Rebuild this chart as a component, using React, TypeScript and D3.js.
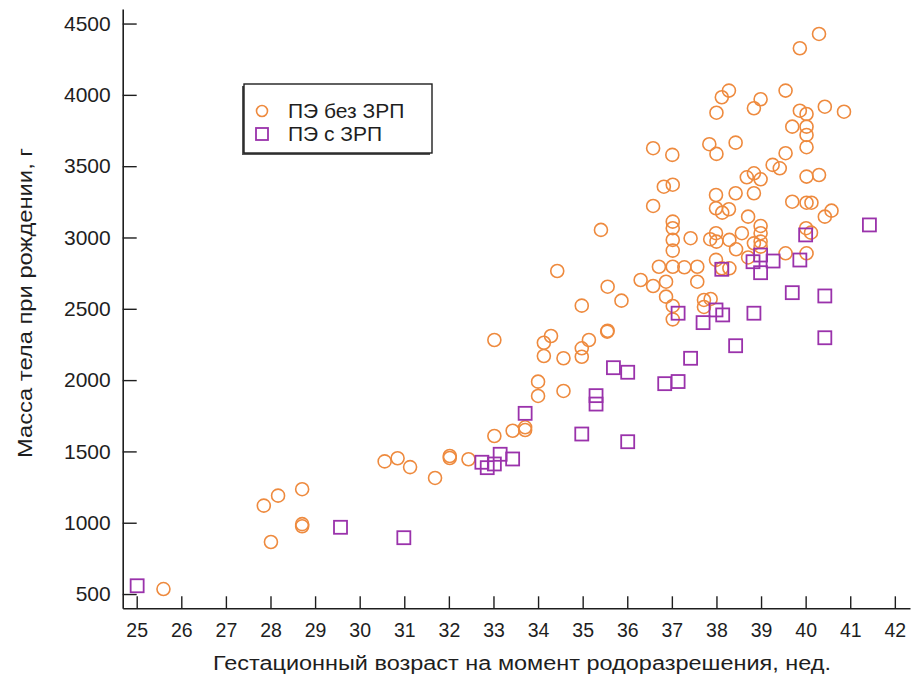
import { useEffect, useRef } from 'react';
import { axisBottom, axisLeft, scaleLinear, select, range, format } from 'd3';

// [gestational age (weeks), birth weight (g)]
const peNoFgr: [number, number][] = [
  [25.6, 535], [27.85, 1120], [28.17, 1190], [28.71, 1235], [28.71, 990], [28.71, 975],
  [28.01, 865], [30.56, 1430], [30.85, 1452], [31.13, 1390], [33.02, 2281], [34.13, 2262],
  [34.29, 2309], [34.13, 2169], [34.57, 2153], [34.98, 2223], [35.14, 2281], [34.98, 2164],
  [35.55, 2340], [34.0, 1989], [34.0, 1889], [34.57, 1924], [33.02, 1608], [33.43, 1645],
  [33.71, 1669], [33.71, 1650], [32.02, 1468], [32.02, 1454], [32.44, 1445], [31.69, 1314],
  [36.82, 3356], [37.02, 3370], [36.58, 3221], [35.41, 3053], [37.02, 3111], [37.02, 3065],
  [37.02, 2983], [37.02, 2908], [37.42, 2995], [37.86, 2988], [37.99, 3298], [37.99, 3030],
  [37.99, 2843], [36.71, 2795], [37.02, 2795], [37.28, 2791], [37.57, 2795], [34.43, 2765],
  [35.56, 2655], [36.3, 2702], [36.58, 2660], [36.87, 2690], [37.57, 2690], [35.87, 2557],
  [34.98, 2522], [36.87, 2585], [37.02, 2520], [37.02, 2426], [37.72, 2562], [37.87, 2569],
  [37.72, 2513], [35.56, 2346], [40.3, 4427], [39.87, 4327], [39.55, 4030], [38.28, 4030],
  [38.12, 3983], [38.0, 3875], [38.99, 3969], [38.84, 3906], [39.87, 3889], [40.02, 3866],
  [40.43, 3917], [40.86, 3882], [39.7, 3777], [40.02, 3777], [40.02, 3719], [40.02, 3633],
  [36.58, 3626], [37.01, 3579], [37.84, 3654], [38.0, 3586], [38.43, 3665], [39.55, 3591],
  [39.26, 3509], [39.42, 3485], [38.68, 3422], [38.84, 3450], [38.99, 3408], [40.02, 3427],
  [40.3, 3438], [38.43, 3310], [38.84, 3310], [39.7, 3251], [40.02, 3244], [40.13, 3244],
  [40.58, 3188], [37.99, 3205], [38.13, 3174], [38.28, 3198], [38.71, 3146], [40.43, 3146],
  [40.01, 3065], [40.12, 3034], [38.0, 2971], [38.29, 2983], [38.57, 3030], [38.44, 2917],
  [38.99, 3081], [38.99, 3030], [38.99, 2971], [38.99, 2936], [38.84, 2959], [39.55, 2889],
  [40.02, 2889], [38.12, 2784], [38.29, 2784], [38.71, 2860],
];

const peFgr: [number, number][] = [
  [25.01, 558], [29.57, 968], [30.99, 895], [33.71, 1767], [32.74, 1424], [32.86, 1386],
  [33.02, 1412], [33.15, 1480], [33.43, 1447], [35.69, 2087], [36.01, 2055], [35.3, 1891],
  [35.3, 1832], [34.98, 1622], [36.01, 1568], [41.43, 3088], [38.99, 2877], [39.27, 2835],
  [39.87, 2842], [38.82, 2830], [38.99, 2753], [38.12, 2777], [40.0, 3018], [39.7, 2613],
  [40.43, 2590], [40.43, 2297], [37.14, 2469], [37.7, 2403], [37.99, 2492], [38.14, 2457],
  [38.84, 2469], [38.43, 2241], [37.42, 2153], [37.14, 1990], [36.84, 1975],
];

const xTicks = range(25, 43);
const yTicks = [500, 1000, 1500, 2000, 2500, 3000, 3500, 4000, 4500];
const legendLabels = ['ПЭ без ЗРП', 'ПЭ с ЗРП'];
const xTitle = 'Гестационный возраст на момент родоразрешения, нед.';
const yTitle = 'Масса тела при рождении, г';

const ORANGE = '#EE8A3E';
const PURPLE = '#9A32AB';
const INK = '#1e1e1e';
const FONT = '"Liberation Sans", Arial, sans-serif';

const width = 913;
const height = 682;

const App = () => {
  const svgRef = useRef(null);

  useEffect(() => {
    const svg = select(svgRef.current);
    svg.selectAll('*').remove();

    const x = scaleLinear().domain([24.686, 42.34]).range([122.7, 910]);
    const y = scaleLinear().domain([400, 4602]).range([608.3, 9]);

    const yAxis = svg
      .append('g')
      .attr('transform', `translate(${x.range()[0]},0)`)
      .call(
        axisLeft(y)
          .tickValues(yTicks)
          .tickFormat(format('d'))
          .tickSizeInner(-14)
          .tickSizeOuter(0)
          .tickPadding(12)
      );
    yAxis.select('.domain').attr('stroke', INK).attr('stroke-width', 1.6);
    yAxis.selectAll('line').attr('stroke', INK).attr('stroke-width', 1.4);
    yAxis
      .selectAll('text')
      .attr('font-family', FONT)
      .attr('font-size', 21)
      .attr('fill', INK);

    const xAxis = svg
      .append('g')
      .attr('transform', `translate(0,${y.range()[0]})`)
      .call(axisBottom(x).tickValues(xTicks).tickSizeInner(-12).tickSizeOuter(0).tickPadding(15));
    xAxis.select('.domain').attr('stroke', INK).attr('stroke-width', 1.6);
    xAxis.selectAll('line').attr('stroke', INK).attr('stroke-width', 1.4);
    xAxis
      .selectAll('text')
      .attr('font-family', FONT)
      .attr('font-size', 19.5)
      .attr('fill', INK);

    svg
      .append('text')
      .attr('x', 522)
      .attr('y', 670)
      .attr('text-anchor', 'middle')
      .attr('font-family', FONT)
      .attr('font-size', 20)
      .attr('textLength', 618)
      .attr('lengthAdjust', 'spacingAndGlyphs')
      .attr('fill', INK)
      .text(xTitle);

    svg
      .append('text')
      .attr('transform', 'translate(32,303) rotate(-90)')
      .attr('text-anchor', 'middle')
      .attr('font-family', FONT)
      .attr('font-size', 20)
      .attr('textLength', 310)
      .attr('lengthAdjust', 'spacingAndGlyphs')
      .attr('fill', INK)
      .text(yTitle);

    // orange circles
    svg
      .append('g')
      .selectAll('circle')
      .data(peNoFgr)
      .enter()
      .append('circle')
      .attr('cx', (d) => x(d[0]))
      .attr('cy', (d) => y(d[1]))
      .attr('r', 6.5)
      .attr('fill', 'none')
      .attr('stroke', ORANGE)
      .attr('stroke-width', 1.6);

    // purple squares on top
    const s = 13;
    svg
      .append('g')
      .selectAll('rect')
      .data(peFgr)
      .enter()
      .append('rect')
      .attr('x', (d) => x(d[0]) - s / 2)
      .attr('y', (d) => y(d[1]) - s / 2)
      .attr('width', s)
      .attr('height', s)
      .attr('fill', 'none')
      .attr('stroke', PURPLE)
      .attr('stroke-width', 1.8);

    // legend
    const legend = svg.append('g').attr('transform', 'translate(244,84)');
    legend
      .append('rect')
      .attr('x', -2)
      .attr('y', 2)
      .attr('width', 188)
      .attr('height', 69)
      .attr('fill', '#555');
    legend
      .append('rect')
      .attr('width', 188)
      .attr('height', 69)
      .attr('fill', '#fff')
      .attr('stroke', INK)
      .attr('stroke-width', 1.4);
    legend
      .append('circle')
      .attr('cx', 18)
      .attr('cy', 27)
      .attr('r', 5.5)
      .attr('fill', 'none')
      .attr('stroke', ORANGE)
      .attr('stroke-width', 1.6);
    legend
      .append('rect')
      .attr('x', 12)
      .attr('y', 44)
      .attr('width', 12)
      .attr('height', 12)
      .attr('fill', 'none')
      .attr('stroke', PURPLE)
      .attr('stroke-width', 1.8);
    legend
      .selectAll('text.lbl')
      .data(legendLabels)
      .enter()
      .append('text')
      .attr('class', 'lbl')
      .attr('x', 44)
      .attr('y', (d, i) => 34 + i * 23)
      .attr('font-family', FONT)
      .attr('font-size', 21)
      .attr('fill', INK)
      .text((d) => d);
  }, []);

  return (
    <svg
      ref={svgRef}
      width={width}
      height={height}
      style={{ position: 'absolute', left: 0, top: 0, background: '#fff' }}
    />
  );
};

export default App;
